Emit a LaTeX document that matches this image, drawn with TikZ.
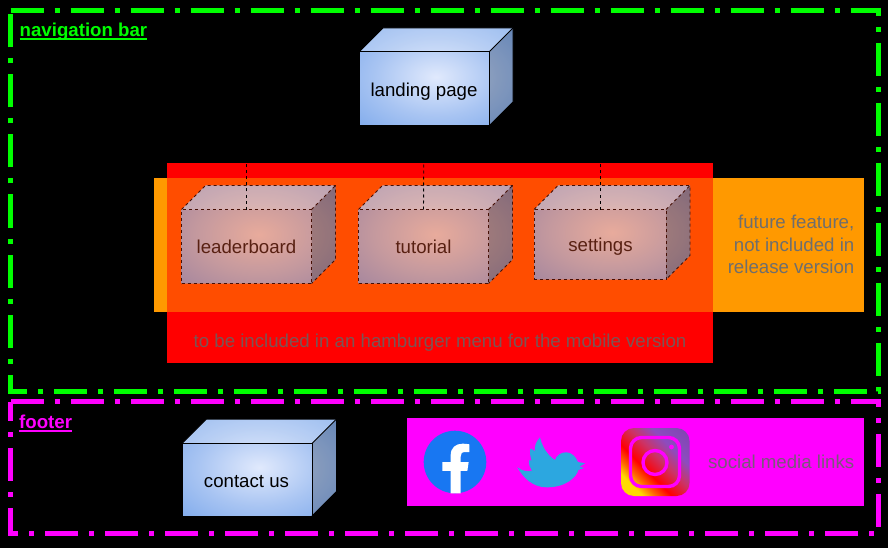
\documentclass[tikz,border=0pt]{standalone}
\usepackage{fontspec}
\setmainfont{Liberation Sans}
\pgfdeclareradialshading{glowblue}{\pgfpoint{0bp}{0bp}}{rgb(0bp)=(0.88,0.915,0.99); rgb(20bp)=(0.66,0.77,0.95); rgb(40bp)=(0.47,0.65,0.92); rgb(60bp)=(0.47,0.65,0.92)}
\pgfdeclareradialshading{glowred}{\pgfpoint{0bp}{0bp}}{rgb(0bp)=(0.91,0.67,0.61); rgb(20bp)=(0.77,0.60,0.62); rgb(40bp)=(0.62,0.51,0.62); rgb(60bp)=(0.62,0.51,0.62)}
\pgfdeclarehorizontalshading{insta}{100bp}{rgb(0bp)=(1,0.85,0); rgb(26bp)=(1,0.85,0); rgb(33bp)=(1,0.40,0); rgb(41bp)=(1,0,0); rgb(54bp)=(0.80,0.20,0.40); rgb(66bp)=(0.55,0.30,0.75); rgb(100bp)=(0.45,0.25,0.65)}
\definecolor{navgreen}{RGB}{0,255,0}
\definecolor{footpink}{RGB}{255,0,255}
\definecolor{blendred}{RGB}{255,77,0}
\definecolor{futureorange}{RGB}{255,153,0}
\definecolor{mutedtext}{RGB}{110,110,110}
\definecolor{redtext}{RGB}{122,85,85}
\definecolor{socialtext}{RGB}{122,88,122}
\definecolor{brownline}{RGB}{70,15,5}
\definecolor{brownlabel}{RGB}{88,32,18}
\tikzset{
  boxlabel/.style={inner sep=0pt,font=\fontsize{18.66}{22}\selectfont},
  framegreen/.style={draw=navgreen,line width=5pt,dash pattern=on 33pt off 11pt on 5pt off 11pt},
  framepink/.style={draw=footpink,line width=5pt,dash pattern=on 33pt off 11pt on 5pt off 11pt},
  heading/.style={inner sep=0pt,font=\fontsize{18.66}{22}\selectfont\bfseries},
  notelabel/.style={inner sep=0pt,text=mutedtext,font=\fontsize{18.66}{22.5}\selectfont},
  solidedge/.style={draw=black,line width=1pt},
  dashedge/.style={draw=brownline,line width=0.9pt,dash pattern=on 3pt off 3pt},
  hiddenlink/.style={draw=black,line width=0.9pt,dash pattern=on 3pt off 3pt},
}
% #1 name, #2 x, #3 y, #4 w, #5 h, #6 depth, #7 shading, #8 edge style
\newcommand\cubebox[8]{%
  \shade[shading=#7] (#2,#3+#6) -- (#2+#6,#3) -- (#2+#6+#4,#3) -- (#2+#6+#4,#3+#5) -- (#2+#4,#3+#6+#5) -- (#2,#3+#6+#5) -- cycle;
  \fill[white,opacity=0.22] (#2,#3+#6) -- (#2+#6,#3) -- (#2+#6+#4,#3) -- (#2+#4,#3+#6) -- cycle;
  \fill[black,opacity=0.22] (#2+#4,#3+#6) -- (#2+#6+#4,#3) -- (#2+#6+#4,#3+#5) -- (#2+#4,#3+#6+#5) -- cycle;
  \node[inner sep=0pt,outer sep=0pt,minimum width=#4 pt,minimum height=#5 pt,anchor=north west,#8,draw] (#1) at (#2,#3+#6) {};
  \draw[#8] (#1.north west) -- ++(#6,-#6) -- ++(#4,0) -- ++(0,#5) -- (#1.south east);
  \draw[#8] (#1.north east) -- ++(#6,-#6);
}
\begin{document}
\begin{tikzpicture}[x=1pt,y=-1pt]
\useasboundingbox (0,0) rectangle (888,548);
\fill[black] (0,0) rectangle (888,548);
% frames
\draw[framegreen] (10.5,10.5) -- (878,10.5) -- (878,391.5) -- (10.5,391.5) -- cycle;
\draw[framepink] (10.5,401.5) -- (878,401.5) -- (878,533.5) -- (10.5,533.5) -- cycle;
\node[heading,text=navgreen,anchor=base west] (navtitle) at (19.5,36.5) {navigation bar};
\node[heading,text=footpink,anchor=base west] (foottitle) at (19,428.5) {footer};
\draw[navgreen,line width=2pt] ([yshift=-2.5pt]navtitle.base west) -- ([yshift=-2.5pt]navtitle.base east);
\draw[footpink,line width=2pt] ([yshift=-2.5pt]foottitle.base west) -- ([yshift=-2.5pt]foottitle.base east);
% coloured bands
\fill[futureorange] (154,178) rectangle (864,312);
\fill[red] (167,163) rectangle (713,363);
\fill[blendred] (167,178) rectangle (713,312);
\fill[footpink] (407,418) rectangle (864,506);
% cubes
\cubebox{landing}{359}{28}{130}{74}{24}{glowblue}{solidedge}
\cubebox{leader}{181.5}{185.5}{130}{74}{24}{glowred}{dashedge}
\cubebox{tutorial}{358.5}{185.5}{130}{74}{24}{glowred}{dashedge}
\cubebox{settings}{534}{185.5}{132}{70}{24}{glowred}{dashedge}
\cubebox{contact}{182}{419}{130}{72.5}{24.5}{glowblue}{solidedge}
\node[boxlabel,text=black] (landinglabel) at (424,92) {landing page};
\node[boxlabel,text=brownlabel] (leaderlabel) at (246.5,247) {leaderboard};
\node[boxlabel,text=brownlabel] (tutoriallabel) at (423.5,247) {tutorial};
\node[boxlabel,text=brownlabel] (settingslabel) at (600.5,247) {settings};
\node[boxlabel,text=black] (contactlabel) at (246.5,482) {contact us};
% connectors
\coordinate (hub) at (424,146);
\draw[hiddenlink] (leader.north) -- (leader.north |- hub) -- (hub);
\draw[hiddenlink] (tutorial.north) -- (landing.south);
\draw[hiddenlink] (settings.north) -- (settings.north |- hub) -- (hub);
% notes
\node[notelabel,align=right,anchor=east] (futurenote) at (854.5,244.5) {future feature,\\not included in\\release version};
\node[inner sep=0pt,text=redtext,font=\fontsize{18.66}{22}\selectfont] (hamburger) at (440,343) {to be included in an hamburger menu for the mobile version};
\node[inner sep=0pt,text=socialtext,font=\fontsize{18.66}{22}\selectfont,anchor=east] (socialnote) at (854.5,462) {social media links};
% facebook
\fill[fill={rgb,255:red,24;green,119;blue,242}] (455,462) circle[radius=31.3];
\begin{scope}[shift={(420,426)},x=0.3333pt,y=-0.3333pt]
\fill[white] (92,202) -- (92,135) -- (67,135) -- (67,108) -- (92,108) -- (92,88) .. controls (92,65) and (107,53) .. (128,53) .. controls (135,53) and (143,54) .. (148,55) -- (148,78) -- (135,78) .. controls (125,78) and (122,84) .. (122,92) -- (122,108) -- (146,108) -- (142,135) -- (122,135) -- (122,202) -- cycle;
\end{scope}
% twitter
\begin{scope}[shift={(510,430)},x=0.3333pt,y=-0.3333pt]
\fill[fill={rgb,255:red,44;green,167;blue,224}] (22,112) .. controls (35,122) and (52,126) .. (66,122) .. controls (58,110) and (55,98) .. (58,90) -- (65,92) .. controls (60,78) and (58,65) .. (62,55) -- (75,64) .. controls (72,50) and (78,35) .. (90,22) .. controls (95,45) and (110,75) .. (135,90) .. controls (140,75) and (155,66) .. (170,67) .. controls (185,68) and (198,80) .. (204,96) -- (225,100) -- (208,110) -- (222,114) -- (205,120) .. controls (200,140) and (170,172) .. (110,172) .. controls (70,172) and (40,145) .. (22,112) -- cycle;
\end{scope}
% instagram
\shade[shading=insta,shading angle=45,rounded corners=13pt] (621,428) rectangle (689.5,496);
\draw[footpink,line width=3.4pt,rounded corners=11pt] (630.5,437.5) rectangle (679.5,486.5);
\draw[footpink,line width=3.4pt] (655,462.5) circle[radius=12];
\fill[footpink] (671.5,447) circle[radius=2.4];
\end{tikzpicture}
\end{document}
